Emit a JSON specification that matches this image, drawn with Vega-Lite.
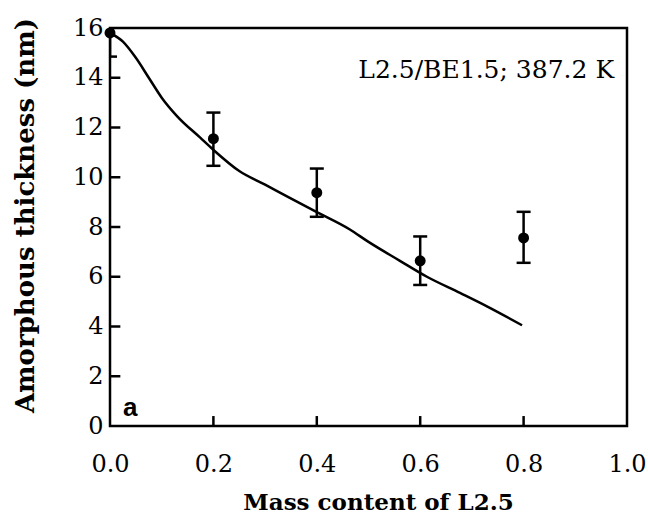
{
  "$schema": "https://vega.github.io/schema/vega-lite/v6.json",
  "width": 517,
  "height": 398,
  "autosize": {"type": "none"},
  "padding": {"left": 110, "top": 28, "right": 21, "bottom": 102},
  "background": "white",
  "config": {
    "view": {"stroke": "black", "strokeWidth": 2.5},
    "axis": {
      "domain": false,
      "grid": false,
      "ticks": false,
      "labelFlush": false,
      "labelOverlap": false,
      "labelFont": "DejaVu Serif",
      "labelFontSize": 24,
      "labelColor": "black",
      "titleFont": "DejaVu Serif",
      "titleFontWeight": "bold",
      "titleFontSize": 24,
      "titleColor": "black"
    }
  },
  "datasets": {
    "points": [
      {"mass": 0.0, "thick": 15.8, "lo": 14.85, "hi": 16.75},
      {"mass": 0.2, "thick": 11.55, "lo": 10.46, "hi": 12.6},
      {"mass": 0.4, "thick": 9.38, "lo": 8.41, "hi": 10.35},
      {"mass": 0.6, "thick": 6.64, "lo": 5.67, "hi": 7.62},
      {"mass": 0.8, "thick": 7.56, "lo": 6.56, "hi": 8.61}
    ],
    "curve": [
      {"mass": 0.0, "thick": 15.8},
      {"mass": 0.025, "thick": 15.45},
      {"mass": 0.05, "thick": 14.8},
      {"mass": 0.075, "thick": 14.0},
      {"mass": 0.1, "thick": 13.2},
      {"mass": 0.13, "thick": 12.45},
      {"mass": 0.174, "thick": 11.6},
      {"mass": 0.2, "thick": 11.1},
      {"mass": 0.25, "thick": 10.25},
      {"mass": 0.3, "thick": 9.7},
      {"mass": 0.345, "thick": 9.2},
      {"mass": 0.4, "thick": 8.6},
      {"mass": 0.464, "thick": 7.9},
      {"mass": 0.5, "thick": 7.4},
      {"mass": 0.56, "thick": 6.65},
      {"mass": 0.613, "thick": 6.0},
      {"mass": 0.677, "thick": 5.35},
      {"mass": 0.73, "thick": 4.8},
      {"mass": 0.797, "thick": 4.05}
    ],
    "xticks": [{"v": 0.2}, {"v": 0.4}, {"v": 0.6}, {"v": 0.8}],
    "yticks": [{"v": 2}, {"v": 4}, {"v": 6}, {"v": 8}, {"v": 10}, {"v": 12}, {"v": 14}],
    "labels": [
      {"mass": 0.975, "thick": 14.0, "txt": "L2.5/BE1.5; 387.2 K", "kind": "ann"},
      {"mass": 0.039, "thick": 0.72, "txt": "a", "kind": "panel"}
    ]
  },
  "layer": [
    {
      "data": {"name": "curve"},
      "mark": {"type": "line", "color": "black", "strokeWidth": 2.5, "interpolate": "monotone", "clip": true},
      "encoding": {
        "x": {"field": "mass", "type": "quantitative", "scale": {"domain": [0, 1]},
          "axis": {"values": [0, 0.2, 0.4, 0.6, 0.8, 1.0], "format": ".1f", "title": "Mass content of L2.5", "titleFontSize": 23,
            "labelPadding": 26, "titleY": 76, "titleX": 268, "titleBaseline": "middle"}},
        "y": {"field": "thick", "type": "quantitative", "scale": {"domain": [0, 16]},
          "axis": {"values": [0, 2, 4, 6, 8, 10, 12, 14, 16], "title": "Amorphous thickness (nm)", "titleFontSize": 26,
            "labelPadding": 7, "titleX": -85, "titleY": 187, "titleBaseline": "middle"}}
      }
    },
    {
      "data": {"name": "xticks"},
      "mark": {"type": "rule", "color": "black", "strokeWidth": 2.5},
      "encoding": {
        "x": {"field": "v", "type": "quantitative"},
        "y": {"datum": 0, "type": "quantitative"},
        "y2": {"datum": 0.4}
      }
    },
    {
      "data": {"name": "yticks"},
      "mark": {"type": "rule", "color": "black", "strokeWidth": 2.5},
      "encoding": {
        "y": {"field": "v", "type": "quantitative"},
        "x": {"datum": 0, "type": "quantitative"},
        "x2": {"datum": 0.02}
      }
    },
    {
      "data": {"name": "points"},
      "mark": {"type": "rule", "color": "black", "strokeWidth": 2.5, "clip": true},
      "encoding": {
        "x": {"field": "mass", "type": "quantitative"},
        "y": {"field": "lo", "type": "quantitative"},
        "y2": {"field": "hi"}
      }
    },
    {
      "data": {"name": "points"},
      "mark": {"type": "tick", "color": "black", "orient": "horizontal", "size": 14, "thickness": 2.5, "opacity": 1, "clip": true},
      "encoding": {
        "x": {"field": "mass", "type": "quantitative"},
        "y": {"field": "lo", "type": "quantitative"}
      }
    },
    {
      "data": {"name": "points"},
      "mark": {"type": "tick", "color": "black", "orient": "horizontal", "size": 14, "thickness": 2.5, "opacity": 1, "clip": true},
      "encoding": {
        "x": {"field": "mass", "type": "quantitative"},
        "y": {"field": "hi", "type": "quantitative"}
      }
    },
    {
      "data": {"name": "points"},
      "mark": {"type": "point", "filled": true, "color": "black", "opacity": 1, "size": 120},
      "encoding": {
        "x": {"field": "mass", "type": "quantitative"},
        "y": {"field": "thick", "type": "quantitative"}
      }
    },
    {
      "data": {"name": "labels"},
      "transform": [{"filter": "datum.kind == 'ann'"}],
      "mark": {"type": "text", "align": "right", "baseline": "alphabetic", "font": "DejaVu Serif", "fontSize": 25, "color": "black"},
      "encoding": {
        "x": {"field": "mass", "type": "quantitative"},
        "y": {"field": "thick", "type": "quantitative"},
        "text": {"field": "txt"}
      }
    },
    {
      "data": {"name": "labels"},
      "transform": [{"filter": "datum.kind == 'panel'"}],
      "mark": {"type": "text", "align": "center", "baseline": "middle", "font": "Liberation Sans", "fontWeight": "bold", "fontSize": 26, "color": "black"},
      "encoding": {
        "x": {"field": "mass", "type": "quantitative"},
        "y": {"field": "thick", "type": "quantitative"},
        "text": {"field": "txt"}
      }
    }
  ]
}
